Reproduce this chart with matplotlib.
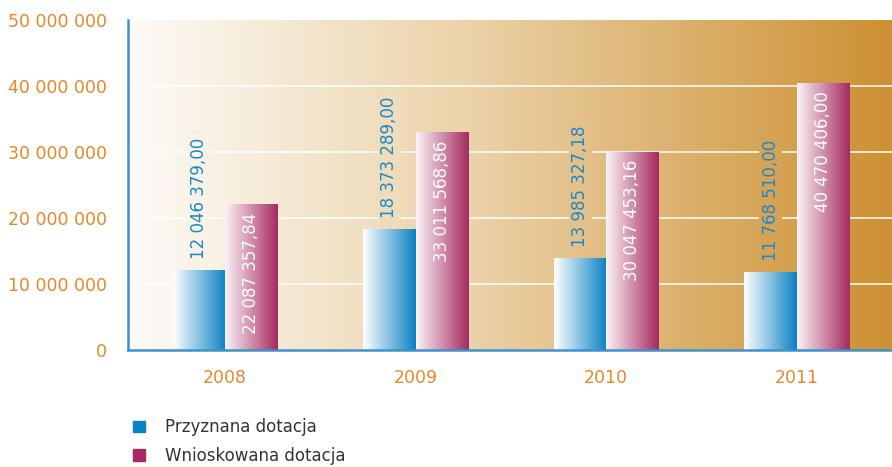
import matplotlib.pyplot as plt
import numpy as np
from matplotlib.colors import LinearSegmentedColormap
from matplotlib.patches import Patch

plt.rcParams['font.family'] = ['DejaVu Sans']

years = ['2008', '2009', '2010', '2011']
przyznana = [12046379.00, 18373289.00, 13985327.18, 11768510.00]
wnioskowana = [22087357.84, 33011568.86, 30047453.16, 40470406.00]
przyznana_txt = ['12 046 379,00', '18 373 289,00', '13 985 327,18', '11 768 510,00']
wnioskowana_txt = ['22 087 357,84', '33 011 568,86', '30 047 453,16', '40 470 406,00']
yticks = [0, 10e6, 20e6, 30e6, 40e6, 50e6]
ytick_labels = ['0', '10 000 000', '20 000 000', '30 000 000', '40 000 000', '50 000 000']

orange = '#e8862a'
blue = '#1a88c8'
bg_cmap = LinearSegmentedColormap.from_list(
    'bg', [(0, '#fdfbf7'), (0.45, '#ebd2a8'), (1, '#cd9033')])
blue_cmap = LinearSegmentedColormap.from_list('bl', ['#ffffff', '#0b82c3'])
pink_cmap = LinearSegmentedColormap.from_list('pk', ['#fbf3f6', '#a62a61'])

fig = plt.figure(figsize=(8.92, 4.67), dpi=100)
ax = fig.add_axes([128 / 892, 1 - 350 / 467, 1 - 128 / 892, 330 / 467])

xmin, xmax = -0.51, 3.5
x = np.arange(len(years))
w = 0.275

grad = np.linspace(0, 1, 256).reshape(1, -1)
ax.imshow(grad, cmap=bg_cmap, aspect='auto', extent=[xmin, xmax, 0, 50e6],
          zorder=0, interpolation='bicubic')
for v in yticks[1:-1]:
    ax.axhline(v, color='white', lw=1.3, alpha=0.85, zorder=1)


def grad_bars(xs, vals, cmap):
    bars = ax.bar(xs, vals, w, color='none', zorder=2)
    for b in bars:
        im = ax.imshow(grad, cmap=cmap, aspect='auto', zorder=2,
                       extent=[b.get_x(), b.get_x() + b.get_width(), 0, b.get_height()])
        im.set_clip_path(b)
    return bars


grad_bars(x - w / 2, przyznana, blue_cmap)
grad_bars(x + w / 2, wnioskowana, pink_cmap)

for i in range(len(years)):
    frac = (x[i] - w / 2 - xmin) / (xmax - xmin)
    bgc = bg_cmap(frac)
    ax.annotate(przyznana_txt[i], (x[i] - w / 2, przyznana[i]), xytext=(0, 8),
                textcoords='offset points', rotation=90, ha='center', va='bottom',
                color=blue, fontsize=12, zorder=3,
                bbox=dict(boxstyle='square,pad=0.15', fc=bgc, ec='none'))
    ax.annotate(wnioskowana_txt[i], (x[i] + w / 2, wnioskowana[i]), xytext=(0, -6),
                textcoords='offset points', rotation=90, ha='center', va='top',
                color='white', fontsize=12, zorder=3)

ax.set_xlim(xmin, xmax)
ax.set_ylim(0, 50e6)
ax.set_xticks(x)
ax.set_xticklabels(years)
ax.set_yticks(yticks)
ax.set_yticklabels(ytick_labels)
ax.tick_params(length=0, labelsize=12.5, labelcolor=orange)
ax.tick_params(axis='y', pad=15)
ax.tick_params(axis='x', pad=14)
for s in ['top', 'right']:
    ax.spines[s].set_visible(False)
for s in ['left', 'bottom']:
    ax.spines[s].set_color('#3d93cc')
    ax.spines[s].set_linewidth(1.8)

handles = [Patch(color='#0b82c3'), Patch(color='#a62a61')]
fig.legend(handles, ['Przyznana dotacja', 'Wnioskowana dotacja'],
           loc='upper left', bbox_to_anchor=(125 / 892, 1 - 410 / 467),
           frameon=False, fontsize=12, handlelength=0.7, handleheight=0.7,
           handletextpad=1.2, labelspacing=0.65, borderpad=0, labelcolor='#333333')

fig.savefig('out.png', dpi=100)
